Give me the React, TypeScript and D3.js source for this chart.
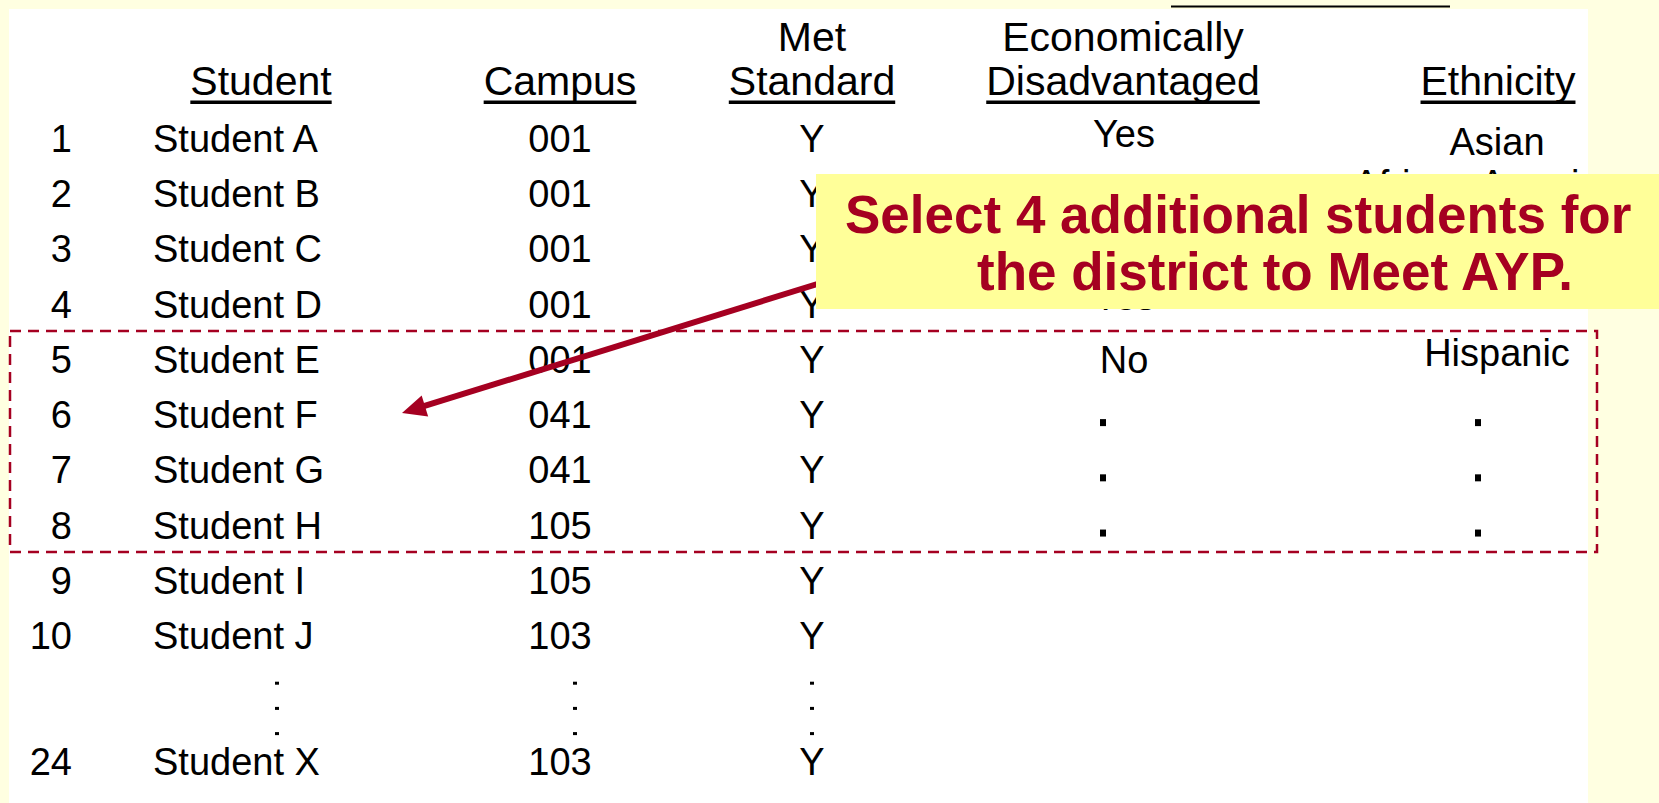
import { useEffect, useRef } from "react"
import * as d3 from "d3"

// table rows
const rowNumbers = ["1", "2", "3", "4", "5", "6", "7", "8", "9", "10", "24"]
const students = [
  "Student A", "Student B", "Student C", "Student D", "Student E", "Student F",
  "Student G", "Student H", "Student I", "Student J", "Student X",
]
const campuses = ["001", "001", "001", "001", "001", "041", "041", "105", "105", "103", "103"]
const metStandard = ["Y", "Y", "Y", "Y", "Y", "Y", "Y", "Y", "Y", "Y", "Y"]
// only the first rows carry these columns (rows 2-4 sit under the callout)
const econDisadvantaged = ["Yes", "", "", "Yes", "No", ".", ".", "."]
const ethnicity = ["Asian", "African American", "", "", "Hispanic", ".", ".", "."]
// rows 11..23 are elided
const ellipsisRows = [13.8, 16.6, 19.4]

const headerTop = [
  { col: "met", text: "Met" },
  { col: "econ", text: "Economically" },
]
const headerBottom = [
  { col: "student", text: "Student" },
  { col: "campus", text: "Campus" },
  { col: "met", text: "Standard" },
  { col: "econ", text: "Disadvantaged" },
  { col: "ethnicity", text: "Ethnicity" },
]

const calloutLines = ["Select 4 additional students for", "the district to Meet AYP."]

const W = 1659
const H = 803
const FONT = "'Liberation Sans', Arial, Helvetica, sans-serif"
const RED = "#A50021"

export default function App() {
  const svgRef = useRef<SVGSVGElement>(null)

  useEffect(() => {
    if (!svgRef.current) return
    const root = d3.select(svgRef.current)
    root.selectAll("*").remove()

    // column anchors
    const colX = d3
      .scaleOrdinal<string, number>()
      .domain(["num", "student", "campus", "met", "econ", "ethnicity"])
      .range([72, 153, 560, 812, 1124, 1497])
    const headerX = d3
      .scaleOrdinal<string, number>()
      .domain(["student", "campus", "met", "econ", "ethnicity"])
      .range([261, 560, 812, 1123, 1498])

    // row number -> baseline
    const y = d3.scaleLinear().domain([1, 10, 24]).range([152, 649, 775])
    const rowNum = rowNumbers.map(Number)

    root.append("rect").attr("width", W).attr("height", H).attr("fill", "#FFFFE1")

    root
      .append("clipPath")
      .attr("id", "panel-clip")
      .append("rect")
      .attr("x", 9)
      .attr("y", 9)
      .attr("width", 1579)
      .attr("height", H - 9)

    root
      .append("rect")
      .attr("x", 9)
      .attr("y", 9)
      .attr("width", 1579)
      .attr("height", H - 9)
      .attr("fill", "#ffffff")

    root
      .append("line")
      .attr("x1", 1171)
      .attr("x2", 1450)
      .attr("y1", 6.5)
      .attr("y2", 6.5)
      .attr("stroke", "#000")
      .attr("stroke-width", 2)

    const table = root.append("g").attr("clip-path", "url(#panel-clip)").attr("font-family", FONT)

    // headers
    table
      .selectAll(".htop")
      .data(headerTop)
      .enter()
      .append("text")
      .attr("x", (d) => headerX(d.col))
      .attr("y", 51)
      .attr("text-anchor", "middle")
      .attr("font-size", 41)
      .text((d) => d.text)

    const hb = table
      .selectAll(".hbot")
      .data(headerBottom)
      .enter()
      .append("g")

    hb.append("text")
      .attr("x", (d) => headerX(d.col))
      .attr("y", 95)
      .attr("text-anchor", "middle")
      .attr("font-size", 41)
      .text((d) => d.text)

    hb.each(function (d) {
      const g = d3.select(this)
      const w = (g.select("text").node() as SVGTextElement).getComputedTextLength()
      g.append("rect")
        .attr("x", headerX(d.col) - w / 2)
        .attr("y", 100.5)
        .attr("width", w)
        .attr("height", 3.5)
        .attr("fill", "#000")
    })

    const body = table.append("g").attr("font-size", 38).attr("fill", "#000")

    body
      .selectAll(".num")
      .data(rowNumbers)
      .enter()
      .append("text")
      .attr("x", colX("num"))
      .attr("y", (d, i) => y(rowNum[i]))
      .attr("text-anchor", "end")
      .text((d) => d)

    body
      .selectAll(".stu")
      .data(students)
      .enter()
      .append("text")
      .attr("x", colX("student"))
      .attr("y", (d, i) => y(rowNum[i]))
      .text((d) => d)

    body
      .selectAll(".camp")
      .data(campuses)
      .enter()
      .append("text")
      .attr("x", colX("campus"))
      .attr("y", (d, i) => y(rowNum[i]))
      .attr("text-anchor", "middle")
      .text((d) => d)

    body
      .selectAll(".met")
      .data(metStandard)
      .enter()
      .append("text")
      .attr("x", colX("met"))
      .attr("y", (d, i) => y(rowNum[i]))
      .attr("text-anchor", "middle")
      .text((d) => d)

    // econ / ethnicity values sit a bit off the row baseline
    const econShift = [-5, -8, -8, -8, 0]
    const ethShift = [3, -10, -10, -10, -7]
    const dotW = 6
    const dotH = 7

    econDisadvantaged.forEach((v, i) => {
      const yy = y(rowNum[i])
      if (v === ".") {
        body.append("rect")
          .attr("x", colX("econ") - 21 - dotW / 2)
          .attr("y", yy - 9)
          .attr("width", dotW)
          .attr("height", dotH)
      } else if (v) {
        body.append("text")
          .attr("x", colX("econ"))
          .attr("y", yy + econShift[i])
          .attr("text-anchor", "middle")
          .text(v)
      }
    })

    ethnicity.forEach((v, i) => {
      const yy = y(rowNum[i])
      if (v === ".") {
        body.append("rect")
          .attr("x", colX("ethnicity") - 19 - dotW / 2)
          .attr("y", yy - 9)
          .attr("width", dotW)
          .attr("height", dotH)
      } else if (v) {
        body.append("text")
          .attr("x", colX("ethnicity"))
          .attr("y", yy + ethShift[i])
          .attr("text-anchor", "middle")
          .text(v)
      }
    })

    // vertical ellipsis for the elided rows
    const ellCols = [
      { col: "student", dx: 124 },
      { col: "campus", dx: 15 },
      { col: "met", dx: 0 },
    ]
    ellCols.forEach((c) => {
      body
        .selectAll(null)
        .data(ellipsisRows)
        .enter()
        .append("rect")
        .attr("x", colX(c.col) + c.dx - 2)
        .attr("y", (d) => y(d) - 1.5)
        .attr("width", 4)
        .attr("height", 3)
    })

    // dashed selection box around rows 5-8
    root
      .append("rect")
      .attr("x", 10)
      .attr("y", 331)
      .attr("width", 1587)
      .attr("height", 221)
      .attr("fill", "none")
      .attr("stroke", RED)
      .attr("stroke-width", 2.5)
      .attr("stroke-dasharray", "11 7")

    // arrow from callout towards Student F
    const start: [number, number] = [840, 277]
    const tip: [number, number] = [402, 413]
    const dx = start[0] - tip[0]
    const dy = start[1] - tip[1]
    const len = Math.hypot(dx, dy)
    const ux = dx / len
    const uy = dy / len
    const headLen = 24
    const headHalf = 11
    const base: [number, number] = [tip[0] + ux * headLen, tip[1] + uy * headLen]
    root
      .append("line")
      .attr("x1", start[0])
      .attr("y1", start[1])
      .attr("x2", base[0] - ux * 2)
      .attr("y2", base[1] - uy * 2)
      .attr("stroke", RED)
      .attr("stroke-width", 6)
    const head = d3.path()
    head.moveTo(tip[0], tip[1])
    head.lineTo(base[0] - uy * headHalf, base[1] + ux * headHalf)
    head.lineTo(base[0] + uy * headHalf, base[1] - ux * headHalf)
    head.closePath()
    root.append("path").attr("d", head.toString()).attr("fill", RED)

    // callout
    root
      .append("rect")
      .attr("x", 816)
      .attr("y", 174)
      .attr("width", W - 816)
      .attr("height", 135)
      .attr("fill", "#FFFF99")

    const callX = [845, 977]
    root
      .append("g")
      .attr("font-family", FONT)
      .attr("font-weight", "bold")
      .attr("font-size", 53)
      .attr("fill", RED)
      .selectAll("text")
      .data(calloutLines)
      .enter()
      .append("text")
      .attr("x", (d, i) => callX[i])
      .attr("y", (d, i) => 233 + i * 57)
      .text((d) => d)
  }, [])

  return (
    <svg
      ref={svgRef}
      width={W}
      height={H}
      style={{ position: "absolute", left: 0, top: 0, display: "block" }}
    />
  )
}
